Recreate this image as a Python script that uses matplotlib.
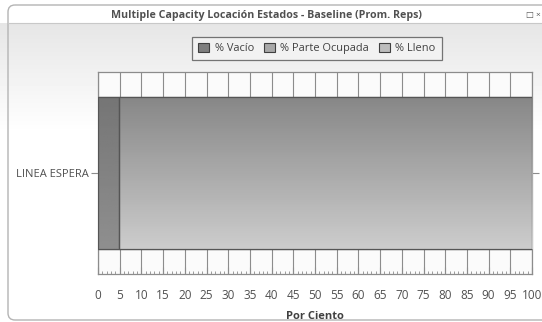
import matplotlib.pyplot as plt
import numpy as np
from matplotlib.patches import FancyBboxPatch, Patch

plt.rcParams['font.family'] = ['Open Sans', 'DejaVu Sans']

# location states, percent of time (average over replications)
locations = ['LINEA ESPERA']
pct_vacio = [4.8]
pct_parte = [95.2]
pct_lleno = [0.0]
state_names = ['% Vacío', '% Parte Ocupada', '% Lleno']
state_colors = ['#7f7f7f', '#a8a8a8', '#bdbdbd']

W, H = 542, 322
fig = plt.figure(figsize=(W / 100, H / 100), dpi=100)

# window background with soft gray fade under the title bar
bg = fig.add_axes([0, 0, 1, 1], zorder=-10)
bg.set_axis_off()
grad = np.ones((H, 1))
fade = np.clip((np.arange(H) - 23) / 110.0, 0, 1)
grad[:, 0] = 0.90 + 0.10 * fade
grad[:23, 0] = 1.0
bg.imshow(grad, cmap='gray', vmin=0, vmax=1, aspect='auto',
          extent=[0, W, H, 0])
bg.set_xlim(0, W)
bg.set_ylim(H, 0)
frame = FancyBboxPatch((8, 5), W + 10, 315, boxstyle='round,pad=0,rounding_size=7',
                       fc='none', ec='#b4b4b4', lw=1.0)
bg.add_patch(frame)
bg.plot([8, W], [23, 23], color='#c8c8c8', lw=0.8)
bg.text(266, 15, 'Multiple Capacity Locación Estados - Baseline (Prom. Reps)',
        ha='center', va='center', fontsize=7.7, fontweight='bold', color='#505050')
bg.text(541, 15, '\u25a1 \u00d7', ha='right', va='center', fontsize=6, color='#555555')

ax = fig.add_axes([98 / W, 1 - 274 / H, 434 / W, 202 / H])
ax.set_facecolor('#fbfbfb')
ypos = np.arange(len(locations))
bar_h = 0.757

bars_v = ax.barh(ypos, pct_vacio, height=bar_h, color=state_colors[0],
                 edgecolor='#555555', lw=0.9, zorder=3)
left2 = np.array(pct_vacio)
bars_p = ax.barh(ypos, pct_parte, left=left2, height=bar_h, color=state_colors[1],
                 edgecolor='#555555', lw=0.9, zorder=3)
left3 = left2 + np.array(pct_parte)
bars_l = ax.barh(ypos, pct_lleno, left=left3, height=bar_h, color=state_colors[2],
                 edgecolor='#555555', lw=0.9, zorder=3)

# vertical shading, darker at the top of each bar
def shade_bar(b, lo, hi):
    x0, y0 = b.get_x(), b.get_y()
    shade = np.linspace(lo, hi, 64).reshape(-1, 1)
    img = ax.imshow(shade, cmap='gray', vmin=0, vmax=1, aspect='auto',
                    extent=[x0, x0 + b.get_width(), y0, y0 + b.get_height()],
                    zorder=3.5, interpolation='bilinear')
    img.set_clip_path(b)
    edge = plt.Rectangle((x0, y0), b.get_width(), b.get_height(), fc='none',
                         ec='#555555', lw=0.9, zorder=4)
    ax.add_patch(edge)

for b in bars_v:
    shade_bar(b, 0.46, 0.56)
for b in bars_p:
    shade_bar(b, 0.53, 0.80)

ax.set_xlim(0, 100)
ax.set_ylim(-0.5, 0.5)
ax.set_xticks(np.arange(0, 101, 5))
ax.set_xticks(np.arange(0, 101, 1), minor=True)
ax.set_yticks(ypos)
ax.set_yticklabels(locations)
ax.xaxis.grid(True, color='#8c8c8c', lw=0.8, zorder=1)
ax.set_axisbelow(True)
ax.tick_params(axis='x', which='major', direction='in', length=5, width=0.8,
               color='#8c8c8c', pad=11, labelsize=8.5, labelcolor='#505050')
ax.tick_params(axis='x', which='minor', direction='in', length=2.5, width=0.6,
               color='#8c8c8c')
ax.tick_params(axis='y', length=5, width=0.8, color='#8c8c8c', pad=2,
               labelsize=8, labelcolor='#505050', right=True)
for s in ax.spines.values():
    s.set_color('#8c8c8c')
    s.set_linewidth(0.9)
ax.set_xlabel('Por Ciento', fontsize=8, fontweight='bold', color='#404040', labelpad=6)

handles = [Patch(fc=c, ec='#404040', lw=0.8) for c in state_colors]
leg = fig.legend(handles, state_names, loc='center', bbox_to_anchor=(317 / W, 1 - 48.5 / H),
                 ncol=3, fontsize=7.9, frameon=True, fancybox=False, handlelength=1.0,
                 handleheight=1.0, handletextpad=0.5, columnspacing=0.9,
                 borderpad=0.55, labelcolor='#404040')
leg.get_frame().set_edgecolor('#555555')
leg.get_frame().set_facecolor('#f4f4f4')
leg.get_frame().set_linewidth(0.9)

fig.savefig('out.png', dpi=100)
